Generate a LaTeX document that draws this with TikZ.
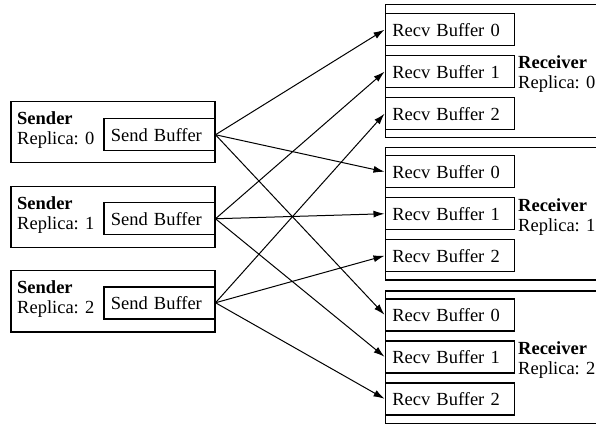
\documentclass[tikz,border=0pt]{standalone}
\usepackage{fontspec}
\setmainfont{Liberation Serif}
\usetikzlibrary{arrows.meta}

\tikzset{
  outer/.style={draw, line width=1.5pt, rectangle, anchor=north west, minimum height=#1, inner sep=0pt},
  buffer/.style={draw, line width=1.5pt, fill=white, rectangle, anchor=north west, minimum height=32pt,
    inner sep=7pt, align=left, font=\fontsize{18.5}{20}\selectfont},
  label/.style={anchor=west, inner sep=0pt, align=left, font=\fontsize{18.5}{20}\selectfont},
  msg/.style={-{Latex[length=11pt,width=7pt]}, line width=1pt}
}

\begin{document}
\begin{tikzpicture}[x=1pt, y=1pt]
\useasboundingbox (0,0) rectangle (596,423);

% Define nodes
\node[outer=61pt, minimum width=204pt] (s0) at (10, 322) {};
\node[outer=61pt, minimum width=204pt] (s1) at (10, 237) {};
\node[outer=61pt, minimum width=204pt] (s2) at (10, 153) {};
\node[label] (s0lab) at (17, 293) {\textbf{Sender}\\Replica: 0};
\node[label] (s1lab) at (17, 208) {\textbf{Sender}\\Replica: 1};
\node[label] (s2lab) at (17, 124) {\textbf{Sender}\\Replica: 2};
\node[buffer, text width=97pt] (sb0) at (103, 305) {Send Buffer};
\node[buffer, text width=97pt] (sb1) at (103, 221) {Send Buffer};
\node[buffer, text width=97pt] (sb2) at (103, 137) {Send Buffer};

\node[outer=133pt, minimum width=220pt] (r0) at (384.5, 419) {};
\node[outer=132pt, minimum width=220pt] (r1) at (384.5, 276) {};
\node[outer=133pt, minimum width=220pt] (r2) at (384.5, 133) {};
\node[label] (r0lab) at (518, 349) {\textbf{Receiver}\\Replica: 0};
\node[label] (r1lab) at (518, 206) {\textbf{Receiver}\\Replica: 1};
\node[label] (r2lab) at (518, 63) {\textbf{Receiver}\\Replica: 2};

\node[buffer, text width=115pt] (rb00) at (384.5, 410) {Recv Buffer 0};
\node[buffer, text width=115pt] (rb01) at (384.5, 368) {Recv Buffer 1};
\node[buffer, text width=115pt] (rb02) at (384.5, 326) {Recv Buffer 2};
\node[buffer, text width=115pt] (rb10) at (384.5, 268) {Recv Buffer 0};
\node[buffer, text width=115pt] (rb11) at (384.5, 226) {Recv Buffer 1};
\node[buffer, text width=115pt] (rb12) at (384.5, 184) {Recv Buffer 2};
\node[buffer, text width=115pt] (rb20) at (384.5, 125) {Recv Buffer 0};
\node[buffer, text width=115pt] (rb21) at (384.5, 83) {Recv Buffer 1};
\node[buffer, text width=115pt] (rb22) at (384.5, 41) {Recv Buffer 2};

% Draw edges
\draw[msg] (sb0.east) -- (rb00.west);
\draw[msg] (sb0.east) -- (rb10.west);
\draw[msg] (sb0.east) -- (rb20.west);
\draw[msg] (sb1.east) -- (rb01.west);
\draw[msg] (sb1.east) -- (rb11.west);
\draw[msg] (sb1.east) -- (rb21.west);
\draw[msg] (sb2.east) -- (rb02.west);
\draw[msg] (sb2.east) -- (rb12.west);
\draw[msg] (sb2.east) -- (rb22.west);
\end{tikzpicture}
\end{document}
